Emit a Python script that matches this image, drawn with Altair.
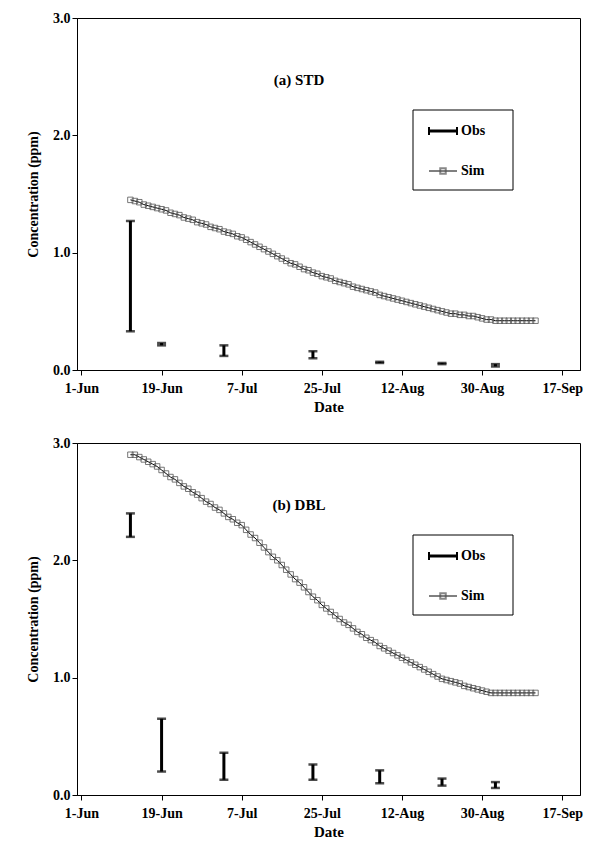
import altair as alt
import pandas as pd

START = pd.Timestamp("2009-06-01")

sim_a = [1.45, 1.44, 1.43, 1.41, 1.40, 1.39, 1.38, 1.37,
         1.36, 1.34, 1.33, 1.32, 1.30, 1.29, 1.28, 1.26, 1.25, 1.24, 1.22, 1.21, 1.20, 1.18, 1.17, 1.16, 1.14, 1.13,
         1.11, 1.09, 1.07, 1.05, 1.03, 1.01, 0.99, 0.97, 0.95, 0.93, 0.91, 0.90, 0.88, 0.86, 0.85, 0.83, 0.82, 0.80,
         0.79, 0.78, 0.76, 0.75, 0.74, 0.73, 0.71, 0.70, 0.69, 0.68, 0.67, 0.66, 0.64, 0.63, 0.62, 0.61, 0.60, 0.59,
         0.58, 0.57, 0.56, 0.55, 0.54, 0.53, 0.52, 0.51, 0.50, 0.49, 0.48, 0.48, 0.47, 0.47, 0.46, 0.46, 0.45, 0.44,
         0.43, 0.43, 0.42, 0.42, 0.42, 0.42, 0.42, 0.42, 0.42, 0.42, 0.42, 0.42]
sim_b = [2.90, 2.90, 2.88, 2.86, 2.84, 2.82, 2.80, 2.77,
         2.74, 2.71, 2.69, 2.66, 2.63, 2.61, 2.58, 2.56, 2.53, 2.50, 2.48, 2.45, 2.43, 2.40, 2.37, 2.35, 2.32, 2.30,
         2.26, 2.22, 2.19, 2.15, 2.11, 2.07, 2.03, 2.00, 1.96, 1.92, 1.88, 1.84, 1.81, 1.77, 1.73, 1.69, 1.66, 1.62,
         1.59, 1.56, 1.53, 1.50, 1.47, 1.45, 1.42, 1.39, 1.37, 1.34, 1.32, 1.30, 1.27, 1.25, 1.23, 1.21, 1.19, 1.17,
         1.15, 1.13, 1.11, 1.09, 1.07, 1.05, 1.03, 1.01, 0.99, 0.98, 0.97, 0.96, 0.95, 0.93, 0.92, 0.91, 0.90, 0.89,
         0.88, 0.87, 0.87, 0.87, 0.87, 0.87, 0.87, 0.87, 0.87, 0.87, 0.87, 0.87]
sim_start_day = 11

obs_days = [11, 18, 32, 52, 67, 81, 93]
obs_a_lo = [0.33, 0.21, 0.12, 0.10, 0.06, 0.05, 0.03]
obs_a_hi = [1.27, 0.23, 0.21, 0.16, 0.07, 0.06, 0.05]
obs_b_lo = [2.20, 0.20, 0.13, 0.13, 0.10, 0.08, 0.06]
obs_b_hi = [2.40, 0.65, 0.36, 0.26, 0.21, 0.14, 0.11]

tick_days = [0, 18, 36, 54, 72, 90, 108]
FONT = "Liberation Serif"


def one(mark, **enc):
    return alt.Chart(pd.DataFrame({"a": [0]})).mark_rule(**mark).encode(**enc)


def panel(sim, lo, hi, label):
    sim_df = pd.DataFrame({
        "date": [START + pd.Timedelta(days=sim_start_day + i) for i in range(len(sim))],
        "value": sim,
    })
    obs_df = pd.DataFrame({
        "date": [START + pd.Timedelta(days=d) for d in obs_days],
        "lo": lo, "hi": hi,
    })
    xscale = alt.Scale(domain=[(START - pd.Timedelta(hours=24)).isoformat(),
                               (START + pd.Timedelta(days=112)).isoformat()])
    yscale = alt.Scale(domain=[0, 3])
    x = alt.X("date:T", scale=xscale, title="Date",
              axis=alt.Axis(values=[(START + pd.Timedelta(days=d)).isoformat() for d in tick_days],
                            format="%-d-%b", grid=False, tickColor="black", domainColor="black",
                            labelColor="black", labelFontSize=14, titleFontSize=15, titlePadding=4,
                            labelPadding=6))
    y = alt.Y("value:Q", scale=yscale, title="Concentration (ppm)",
              axis=alt.Axis(values=[0, 1, 2, 3], format=".1f", grid=False, tickColor="black",
                            domainColor="black", labelColor="black", labelFontSize=14,
                            titleFontSize=14, titlePadding=12))
    line = alt.Chart(sim_df).mark_line(
        color="black", strokeWidth=1,
        point=alt.OverlayMarkDef(shape="square", filled=False, color="#555", size=30, strokeWidth=0.8),
    ).encode(x=x, y=y)
    rule = alt.Chart(obs_df).mark_rule(color="black", strokeWidth=3).encode(
        x="date:T", y=alt.Y("lo:Q", scale=yscale), y2="hi:Q")
    cap_lo = alt.Chart(obs_df).mark_tick(color="black", orient="horizontal", size=9, thickness=2.5).encode(
        x="date:T", y=alt.Y("lo:Q", scale=yscale))
    cap_hi = alt.Chart(obs_df).mark_tick(color="black", orient="horizontal", size=9, thickness=2.5).encode(
        x="date:T", y=alt.Y("hi:Q", scale=yscale))
    title = alt.Chart(pd.DataFrame({"t": [label]})).mark_text(
        font=FONT, fontWeight="bold", fontSize=15).encode(
        x=alt.value(222), y=alt.value(62), text="t:N")
    box = alt.Chart(pd.DataFrame({"a": [0]})).mark_rect(
        fill="white", stroke="black", strokeWidth=1).encode(
        x=alt.value(336), x2=alt.value(436), y=alt.value(92), y2=alt.value(172))
    leg_obs = one(dict(color="black", strokeWidth=3), x=alt.value(352), x2=alt.value(380), y=alt.value(113))
    leg_obs_c1 = one(dict(color="black", strokeWidth=2), x=alt.value(352), y=alt.value(109), y2=alt.value(117))
    leg_obs_c2 = one(dict(color="black", strokeWidth=2), x=alt.value(380), y=alt.value(109), y2=alt.value(117))
    leg_sim = one(dict(color="black", strokeWidth=1), x=alt.value(352), x2=alt.value(380), y=alt.value(153))
    leg_sim_pt = alt.Chart(pd.DataFrame({"a": [0]})).mark_point(
        shape="square", filled=False, color="#555", size=30).encode(x=alt.value(366), y=alt.value(153))
    leg_txt = alt.Chart(pd.DataFrame({"t": ["Obs", "Sim"], "yy": [113, 153]})).mark_text(
        font=FONT, fontWeight="bold", fontSize=14, align="left").encode(
        x=alt.value(384), y=alt.Y("yy:Q", scale=None), text="t:N")
    return alt.layer(line, rule, cap_lo, cap_hi, title, box, leg_obs, leg_obs_c1, leg_obs_c2,
                     leg_sim, leg_sim_pt, leg_txt).properties(width=503, height=352)


chart = alt.vconcat(
    panel(sim_a, obs_a_lo, obs_a_hi, "(a) STD"),
    panel(sim_b, obs_b_lo, obs_b_hi, "(b) DBL"),
    spacing=20,
).configure_view(stroke="black", strokeWidth=1).configure_axis(
    labelFont=FONT, titleFont=FONT, labelFontWeight="bold", titleFontWeight="bold"
).properties(padding={"left": 18, "top": 2, "right": 0, "bottom": 0})

chart.save("out.html", embed_options={"renderer": "svg", "actions": False})
